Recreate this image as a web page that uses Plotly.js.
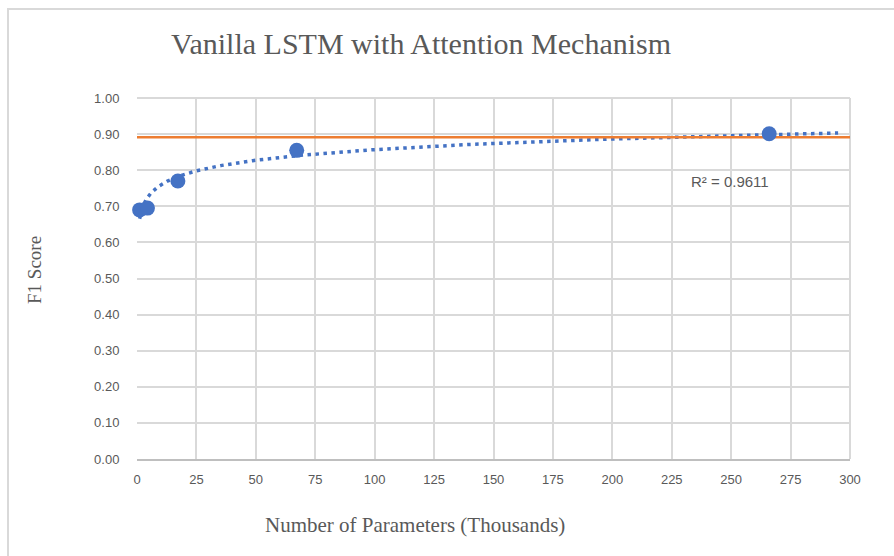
<!DOCTYPE html>
<html>
<head>
<meta charset="utf-8">
<script src="https://cdn.plot.ly/plotly-3.0.1.min.js"></script>
<style>
  html, body { margin: 0; padding: 0; background: #ffffff; }
  #frame { position: absolute; left: 7px; top: 8px; width: 900px; height: 560px;
           border-top: 2px solid #d9d9d9; border-left: 2px solid #d9d9d9; box-sizing: border-box; }
  #chart { position: absolute; left: 0; top: 0; width: 894px; height: 556px; }
</style>
</head>
<body>
<div id="frame"></div>
<div id="chart"></div>
<script>
// ---- data ----
const paramsThousands = [1.1, 4.4, 17.2, 67.2, 266.0];
const f1Scores = [0.690, 0.695, 0.770, 0.855, 0.901];
const referenceX = [0, 300];
const referenceF1 = [0.891, 0.891];
const trendForecastForward = 29;      // Excel-style forward forecast of the trendline
const r2Label = "R² = 0.9611";
const xTicks = [0, 25, 50, 75, 100, 125, 150, 175, 200, 225, 250, 275, 300];
const yTicks = [0, 0.1, 0.2, 0.3, 0.4, 0.5, 0.6, 0.7, 0.8, 0.9, 1.0];

// ---- logarithmic trendline fitted to the data (y = a ln x + b) ----
const lx = paramsThousands.map(Math.log);
const n = lx.length;
const mx = lx.reduce((s, v) => s + v, 0) / n;
const my = f1Scores.reduce((s, v) => s + v, 0) / n;
let sxy = 0, sxx = 0;
for (let i = 0; i < n; i++) { sxy += (lx[i] - mx) * (f1Scores[i] - my); sxx += (lx[i] - mx) ** 2; }
const a = sxy / sxx, b = my - a * mx;
const tMin = Math.min(...paramsThousands);
const tMax = Math.max(...paramsThousands) + trendForecastForward;
const trendX = [], trendY = [];
const steps = 400;
for (let k = 0; k <= steps; k++) {
  const x = Math.exp(Math.log(tMin) + (Math.log(tMax) - Math.log(tMin)) * k / steps);
  trendX.push(x); trendY.push(a * Math.log(x) + b);
}

const blue = '#4472C4', orange = '#ED7D31', grid = '#d9d9d9', txt = '#595959';
const sans = 'Liberation Sans, Arial, sans-serif';
const tickFont = { family: sans, size: 13, color: txt };
const serif = 'Liberation Serif, Times New Roman, serif';

const traces = [
  { x: trendX, y: trendY, mode: 'lines',
    line: { color: blue, width: 3.5, dash: '3.5px,4.5px' }, hoverinfo: 'skip', showlegend: false },
  { x: referenceX, y: referenceF1, mode: 'lines', line: { color: orange, width: 2.5 },
    hoverinfo: 'skip', showlegend: false },
  { x: paramsThousands, y: f1Scores, mode: 'markers', cliponaxis: false,
    marker: { color: blue, size: 15 }, showlegend: false }
];

const layout = {
  width: 894, height: 556,
  paper_bgcolor: 'rgba(0,0,0,0)', plot_bgcolor: '#ffffff',
  margin: { l: 137, r: 44, t: 98, b: 97 },
  title: { text: 'Vanilla LSTM with Attention Mechanism', x: 0.471, xanchor: 'center',
           y: 0.922, yanchor: 'middle', font: { family: serif, size: 30, color: txt } },
  xaxis: {
    range: [0, 300], tickvals: xTicks, ticktext: xTicks.map(String),
    showgrid: true, gridcolor: grid, gridwidth: 2,
    zeroline: false, showline: true, linecolor: '#bfbfbf', linewidth: 2,
    ticks: 'outside', ticklen: 7, tickcolor: 'rgba(0,0,0,0)', tickfont: tickFont,
    fixedrange: true
  },
  yaxis: {
    range: [0, 1], tickvals: yTicks, ticktext: yTicks.map(v => v.toFixed(2)),
    showgrid: true, gridcolor: grid, gridwidth: 2,
    zeroline: false, showline: false,
    ticks: 'outside', ticklen: 14, tickcolor: 'rgba(0,0,0,0)', tickfont: tickFont,
    fixedrange: true
  },
  shapes: [
    { type: 'line', xref: 'paper', yref: 'paper', x0: 1, x1: 1, y0: 0, y1: 1,
      line: { color: grid, width: 2 }, layer: 'below' },
    { type: 'line', xref: 'paper', yref: 'paper', x0: 0, x1: 1, y0: 1, y1: 1,
      line: { color: grid, width: 2 }, layer: 'below' }
  ],
  annotations: [
    { x: 730, y: 181, xref: 'paper', yref: 'paper', text: r2Label, showarrow: false,
      xanchor: 'center', yanchor: 'middle',
      font: { family: sans, size: 15, color: txt } },
    { x: 415, y: 525, xref: 'paper', yref: 'paper', text: 'Number of Parameters (Thousands)',
      showarrow: false, xanchor: 'center', yanchor: 'middle',
      font: { family: serif, size: 21, color: txt } },
    { x: 34, y: 270, xref: 'paper', yref: 'paper', text: 'F1 Score', textangle: -90,
      showarrow: false, xanchor: 'center', yanchor: 'middle',
      font: { family: serif, size: 19, color: txt } }
  ],
  showlegend: false
};

// convert pixel positions of free-floating texts into paper fractions
const pw = layout.width - layout.margin.l - layout.margin.r;
const ph = layout.height - layout.margin.t - layout.margin.b;
layout.annotations.forEach(an => {
  an.x = (an.x - layout.margin.l) / pw;
  an.y = (layout.height - layout.margin.b - an.y) / ph;
});

Plotly.newPlot('chart', traces, layout, { staticPlot: true, displayModeBar: false });
</script>
</body>
</html>
